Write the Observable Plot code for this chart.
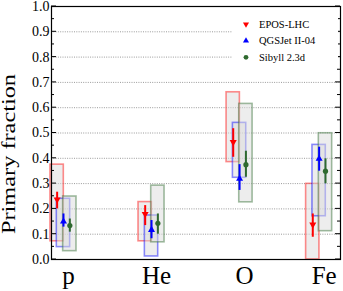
<!DOCTYPE html>
<html><head><meta charset="utf-8">
<script src="https://cdn.jsdelivr.net/npm/d3@7"></script>
<script src="https://cdn.jsdelivr.net/npm/@observablehq/plot@0.6"></script>
<style>body{margin:0;background:#fff} #chart{width:343px;height:291px}</style>
</head><body><div id="chart"></div>
<script>
// ---- data ----
const elements = ["p", "He", "O", "Fe"];
const massNumbers = [1, 4, 16, 56];
const models = ["EPOS-LHC", "QGSJet II-04", "Sibyll 2.3d"];
const yTickLabels = [0.0, 0.1, 0.2, 0.3, 0.4, 0.5, 0.6, 0.7, 0.8, 0.9, 1.0];

const eposValue   = [0.237, 0.180, 0.464, 0.138];
const eposErrLow  = [0.200, 0.134, 0.404, 0.088];
const eposErrHigh = [0.266, 0.213, 0.517, 0.180];
const eposBoxLow  = [0.072, 0.072, 0.385, 0.000];
const eposBoxHigh = [0.375, 0.227, 0.661, 0.299];

const qgsValue    = [0.150, 0.117, 0.319, 0.398];
const qgsErrLow   = [0.128, 0.082, 0.273, 0.349];
const qgsErrHigh  = [0.180, 0.154, 0.375, 0.444];
const qgsBoxLow   = [0.049, 0.012, 0.323, 0.171];
const qgsBoxHigh  = [0.240, 0.174, 0.540, 0.453];

const sibValue    = [0.134, 0.143, 0.375, 0.349];
const sibErrLow   = [0.108, 0.100, 0.325, 0.299];
const sibErrHigh  = [0.160, 0.180, 0.428, 0.398];
const sibBoxLow   = [0.033, 0.068, 0.226, 0.112];
const sibBoxHigh  = [0.249, 0.292, 0.615, 0.499];

// ---- table built from arrays ----
const series = [
  [eposValue, eposErrLow, eposErrHigh, eposBoxLow, eposBoxHigh],
  [qgsValue, qgsErrLow, qgsErrHigh, qgsBoxLow, qgsBoxHigh],
  [sibValue, sibErrLow, sibErrHigh, sibBoxLow, sibBoxHigh]
];
const rows = [];
models.forEach((m, k) => {
  elements.forEach((el, i) => {
    const [v, lo, hi, bl, bh] = series[k];
    rows.push({model: m, k, element: el, A: massNumbers[i], value: v[i], errLow: lo[i], errHigh: hi[i], boxLow: bl[i], boxHigh: bh[i]});
  });
});

// ---- styling ----
const colors = ["#ff0000", "#0000ff", "#2f6a2f"];
const offsets = [-0.1, 0, 0.1];   // horizontal shift per model (ln units)
const halfW = 0.105;
const serif = "'Liberation Serif', 'DejaVu Serif', serif";
const xc = d => d.A * Math.exp(offsets[d.k]);

const plot = Plot.plot({
  width: 343, height: 291,
  marginLeft: 51, marginRight: 3, marginTop: 6, marginBottom: 32,
  style: {fontFamily: serif, background: "white", color: "black"},
  x: {type: "log", domain: [0.828, 78.4]},
  y: {domain: [0, 1]},
  color: {domain: models, range: colors},
  symbol: {domain: models, range: ["triangle", "triangle", "circle"]},
  marks: [
    Plot.ruleY(yTickLabels.filter(v => v > 0 && v < 1), {stroke: "#9a9a9a", strokeDasharray: "1,1.3", strokeWidth: 1}),
    Plot.rect(rows, {
      x1: d => d.A * Math.exp(offsets[d.k] - halfW),
      x2: d => d.A * Math.exp(offsets[d.k] + halfW),
      y1: "boxLow", y2: "boxHigh",
      fill: "#dcdcdc", fillOpacity: 0.5,
      stroke: "model", strokeOpacity: 0.45, strokeWidth: 1.6
    }),
    Plot.ruleX(rows, {x: xc, y1: "errLow", y2: "errHigh", stroke: "model", strokeWidth: 2}),
    Plot.dot(rows, {x: xc, y: "value", fill: "model", symbol: "model", r: 2.6,
      rotate: d => d.k === 0 ? 180 : 0}),
    Plot.axisY({ticks: yTickLabels, tickFormat: d3.format(".1f"), tickSize: 0, tickPadding: 2, fontSize: 14, label: null}),
    Plot.axisX({ticks: massNumbers, tickFormat: d => elements[massNumbers.indexOf(d)], tickSize: 0, tickPadding: 6.5, fontSize: 25, label: null, dx: 5}),
    Plot.frame({stroke: "black", strokeWidth: 1.2})
  ]
});

document.getElementById("chart").appendChild(plot);

// ---- inward ticks, legend, y label ----
const svg = d3.select(plot);
const ys = plot.scale("y");
const [xl, xr] = plot.scale("x").range;
const tg = svg.append("g").attr("stroke", "black").attr("stroke-width", 1);
for (let i = 0; i <= 20; i++) {
  const v = i / 20, yy = ys.apply(v), len = i % 2 === 0 ? 5 : 3;
  tg.append("line").attr("x1", xl).attr("x2", xl + len).attr("y1", yy).attr("y2", yy);
  tg.append("line").attr("x1", xr).attr("x2", xr - len).attr("y1", yy).attr("y2", yy);
}

const lg = svg.append("g").attr("font-family", serif).attr("text-anchor", "start");
lg.append("rect").attr("x", 232).attr("y", 10).attr("width", 106).attr("height", 57).attr("fill", "white");
models.forEach((m, k) => {
  const cy = 24.3 + k * 16.5;
  const sym = k === 2 ? d3.symbolCircle : d3.symbolTriangle;
  lg.append("path").attr("d", d3.symbol(sym, k === 2 ? 18 : 16)())
    .attr("transform", `translate(246,${cy}) rotate(${k === 0 ? 180 : 0})`).attr("fill", colors[k]);
  lg.append("text").attr("x", 259).attr("y", cy).attr("dy", "0.35em").attr("font-size", 10.5).attr("fill", "black").text(m);
});

svg.append("text").attr("font-family", serif).attr("font-size", 18).attr("text-anchor", "middle")
  .attr("textLength", 160).attr("lengthAdjust", "spacingAndGlyphs")
  .attr("transform", "translate(15,154) rotate(-90)").attr("fill", "black").text("Primary fraction");
</script></body></html>
